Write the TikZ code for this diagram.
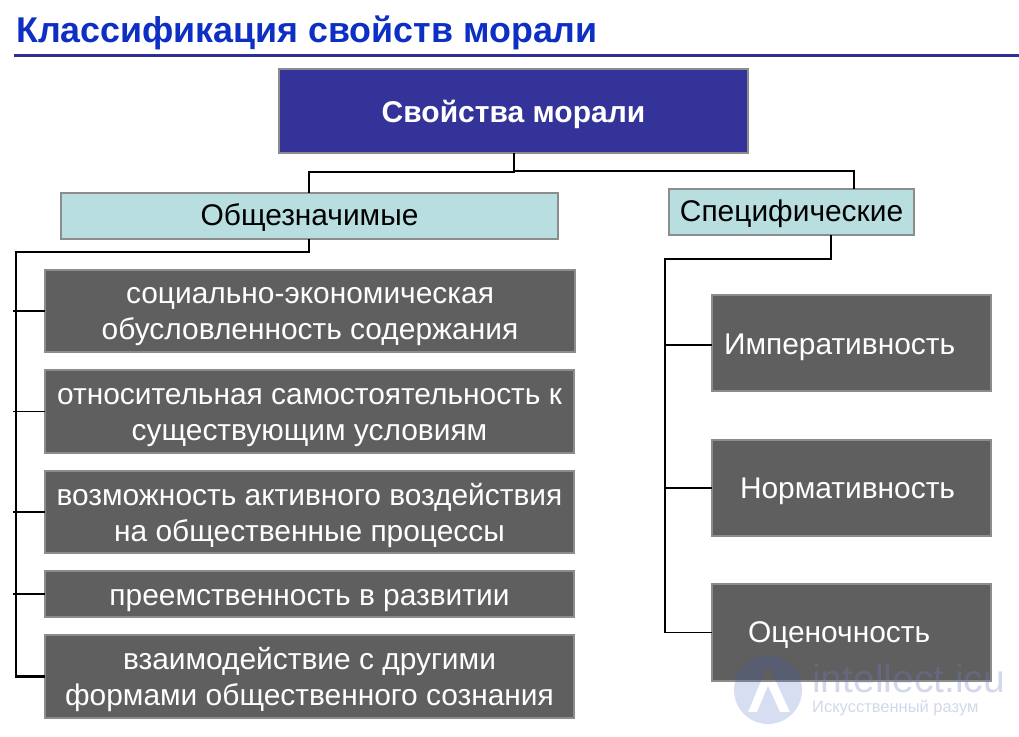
\documentclass[tikz,border=0pt]{standalone}
\usepackage{fontspec}
\setmainfont{Liberation Sans}
\definecolor{navy}{HTML}{333399}
\definecolor{titleblue}{HTML}{0D2FC4}
\definecolor{rule}{HTML}{2E2E96}
\definecolor{pale}{HTML}{B8DEE0}
\definecolor{dark}{HTML}{5F5F5F}
\definecolor{edge}{HTML}{8C8C8C}
\definecolor{wmA}{HTML}{3F5CC0}
\definecolor{wmB}{HTML}{6F7FC0}
\newcommand{\bodyfs}{\fontsize{29.9}{36}\selectfont}
\newcommand{\dnn}[2]{\raisebox{-#1pt}[\height][\depth]{#2}}
\tikzset{
  box/.style={draw=edge,line width=2.5pt,inner sep=0pt,outer sep=0pt,anchor=north west,align=center},
  headbox/.style={box,fill=navy,text=white,font=\fontsize{30}{34}\selectfont\bfseries},
  palebox/.style={box,fill=pale,text=black,font=\bodyfs},
  darkbox/.style={box,fill=dark,text=white,font=\bodyfs},
  thickline/.style={black,line width=2.4pt,line join=miter},
  thinline/.style={black,line width=1.2pt,line join=miter}
}
\begin{document}
\begin{tikzpicture}[x=1pt,y=-1pt]
\useasboundingbox (0,0) rectangle (1019,736);
\fill[white] (0,0) rectangle (1019,736);
% title
\node[anchor=west,inner sep=0pt,text=titleblue,font=\fontsize{35.8}{38}\selectfont\bfseries] (title) at (16,33) {Классификация свойств морали};
\coordinate (ruleL) at (14,55.5);
\coordinate (ruleR) at (1019,55.5);
\draw[rule,line width=3pt] (ruleL) -- (ruleR);
% boxes
\node[headbox,minimum width=469pt,minimum height=84pt] (top) at (279,69) {\dnn{3}{Свойства морали}};
\node[palebox,minimum width=497pt,minimum height=46pt] (gen) at (61,193) {\dnn{2}{Общезначимые}};
\node[palebox,minimum width=245pt,minimum height=46pt] (spec) at (669,189) {\dnn{2}{Специфические}};
\node[darkbox,minimum width=530pt,minimum height=82pt] (g1) at (45,270) {\dnn{6}{социально-экономическая}\\\dnn{6}{обусловленность содержания}};
\node[darkbox,minimum width=529pt,minimum height=83pt] (g2) at (45,370) {\dnn{6}{относительная самостоятельность к}\\\dnn{6}{существующим условиям}};
\node[darkbox,minimum width=529pt,minimum height=82pt] (g3) at (45,471) {\dnn{3}{возможность активного воздействия}\\\dnn{3}{на общественные процессы}};
\node[darkbox,minimum width=529pt,minimum height=46pt] (g4) at (45,571) {\dnn{7}{преемственность в развитии}};
\node[darkbox,minimum width=529pt,minimum height=83pt] (g5) at (45,635) {\dnn{3}{взаимодействие с другими}\\\dnn{3}{формами общественного сознания}};
\node[darkbox,minimum width=279pt,minimum height=96pt,text width=279pt,align=left] (s1) at (712,295) {\hspace*{12pt}\dnn{4}{Императивность}};
\node[darkbox,minimum width=279pt,minimum height=96pt,text width=279pt,align=left] (s2) at (712,440) {\hspace*{28pt}\dnn{3}{Нормативность}};
\node[darkbox,minimum width=279pt,minimum height=97pt,text width=279pt,align=left] (s3) at (712,584) {\hspace*{36pt}\dnn{3}{Оценочность}};
% connectors
\coordinate (busTop) at (514,172);
\coordinate (genIn) at (309,172);
\coordinate (specIn) at (854,171);
\coordinate (genBus) at (16,252);
\coordinate (specBus) at (665,259);
\coordinate (specOut) at (831,259);
\draw[thinline] (busTop |- specIn) -- (specIn) -- (specIn |- spec.north);
\draw[thickline] (top.south -| busTop) -- (busTop) -- (genIn) -- (genIn |- gen.north);
\draw[thickline] (genIn |- gen.south) -- (genIn |- genBus) -- (genBus) -- (genBus |- g5.west) -- (g5.west);
\draw[thinline] (13,0 |- g1.west) -- (g1.west);
\draw[thinline] (13,0 |- g2.west) -- (g2.west);
\draw[thinline] (13,0 |- g3.west) -- (g3.west);
\draw[thinline] (13,0 |- g4.west) -- (g4.west);
\draw[thinline] (specOut |- spec.south) -- (specOut) -- (specBus) -- (specBus |- s3.west) -- (s3.west);
\draw[thinline] ([yshift=-2pt]specBus |- s1.west) -- ([yshift=-2pt]s1.west);
\draw[thinline] (specBus |- s2.west) -- (s2.west);
% watermark
\fill[wmA,opacity=.2,even odd rule] (768,690) circle (34) (768,664) -- (748,712) -- (757,712) -- (768,686) -- (780,712) -- (790,712) -- cycle;
\node[text=wmB,opacity=.3,font=\fontsize{39}{39}\selectfont,anchor=west,inner sep=0pt] (wm1) at (812,679) {intellect.icu};
\node[text=wmB,opacity=.3,font=\fontsize{16.5}{17}\selectfont,anchor=west,inner sep=0pt] (wm2) at (812,708) {Искусственный разум};
\end{tikzpicture}
\end{document}
